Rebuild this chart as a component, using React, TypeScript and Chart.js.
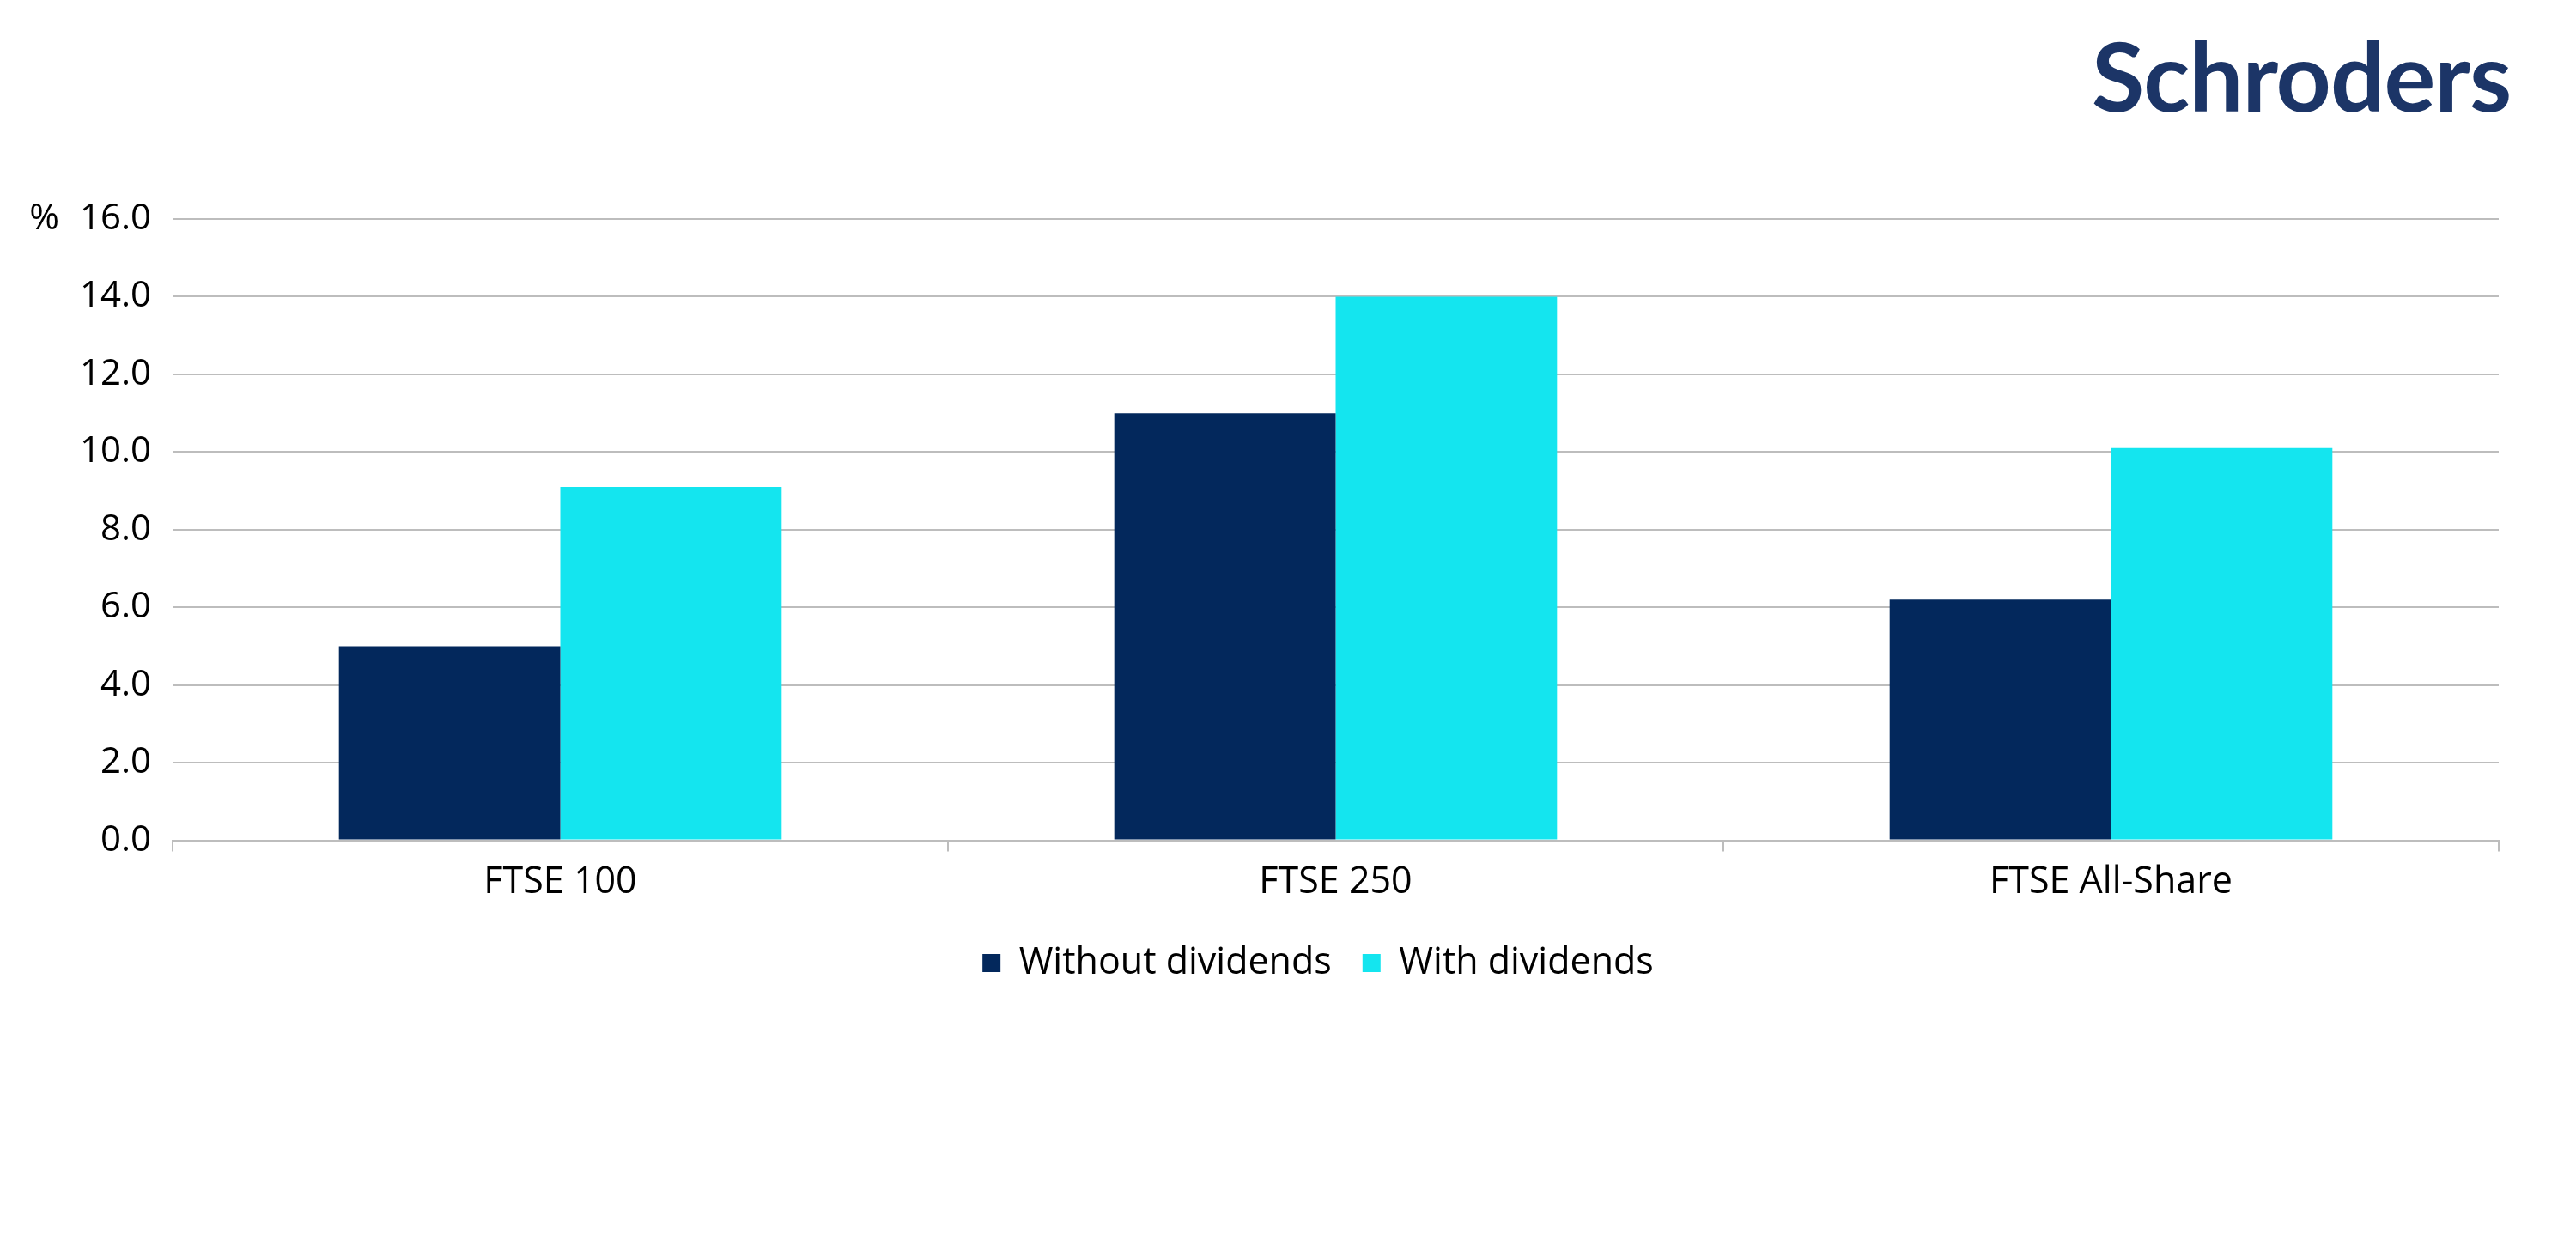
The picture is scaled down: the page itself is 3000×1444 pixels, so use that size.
import React, { useEffect, useRef } from "react";
import { Chart, registerables } from "chart.js";

Chart.register(...registerables);

// data
const categories = ["FTSE 100", "FTSE 250", "FTSE All-Share"];
const seriesNames = ["Without dividends", "With dividends"];
const withoutDividends = [5.0, 11.0, 6.2];
const withDividends = [9.1, 14.0, 10.1];
const yTicks = [0, 2, 4, 6, 8, 10, 12, 14, 16];
const yUnit = "%";

const NAVY = "#03285c";
const CYAN = "#14e5ef";
const GRID = "#bdbdbd";
const FONT = "'Open Sans', sans-serif";
const Y_FONT_SIZE = 42;
const X_FONT_SIZE = 43;
const Y_TICK_PAD = 25;

// draws the "%" unit to the left of the top y tick label
const unitLabel = {
  id: "unitLabel",
  afterDraw(chart: Chart) {
    const scale = chart.scales.y;
    const ctx = chart.ctx;
    const top = yTicks[yTicks.length - 1];
    ctx.save();
    ctx.font = `${Y_FONT_SIZE}px ${FONT}`;
    ctx.fillStyle = "#000000";
    ctx.textAlign = "right";
    ctx.textBaseline = "middle";
    const labelWidth = ctx.measureText(top.toFixed(1)).width;
    ctx.fillText(yUnit, scale.right - Y_TICK_PAD - labelWidth - 24, scale.getPixelForValue(top));
    ctx.restore();
  },
};

const App = () => {
  const chartRef = useRef<HTMLCanvasElement>(null);
  const chartInstanceRef = useRef<Chart | null>(null);

  useEffect(() => {
    if (!chartRef.current) return;
    const context = chartRef.current.getContext("2d");
    if (!context) return;

    if (chartInstanceRef.current) {
      chartInstanceRef.current.destroy();
    }

    chartInstanceRef.current = new Chart(context, {
      type: "bar",
      data: {
        labels: categories,
        datasets: [
          {
            label: seriesNames[0],
            data: withoutDividends,
            backgroundColor: NAVY,
            borderWidth: 0,
            categoryPercentage: 0.571,
            barPercentage: 1.0,
          },
          {
            label: seriesNames[1],
            data: withDividends,
            backgroundColor: CYAN,
            borderWidth: 0,
            categoryPercentage: 0.571,
            barPercentage: 1.0,
          },
        ],
      },
      options: {
        animation: false,
        responsive: true,
        maintainAspectRatio: false,
        layout: {
          padding: { left: 94, right: 24, top: 255, bottom: 291 },
        },
        plugins: {
          title: { display: false },
          tooltip: { enabled: false },
          legend: {
            position: "bottom",
            labels: {
              boxWidth: 21,
              boxHeight: 21,
              padding: 36,
              color: "#000000",
              font: { family: FONT, size: X_FONT_SIZE },
            },
          },
        },
        scales: {
          x: {
            grid: {
              display: true,
              offset: true,
              drawOnChartArea: false,
              drawTicks: true,
              tickLength: 13,
              color: GRID,
              lineWidth: 2,
            },
            border: { display: true, color: GRID, width: 2 },
            ticks: {
              color: "#000000",
              padding: 19,
              font: { family: FONT, size: X_FONT_SIZE, lineHeight: 0.8 },
            },
          },
          y: {
            min: yTicks[0],
            max: yTicks[yTicks.length - 1],
            afterFit: (scale: any) => {
              scale.width = 107;
            },
            grid: {
              color: GRID,
              lineWidth: 2,
              drawTicks: false,
            },
            border: { display: false },
            ticks: {
              stepSize: yTicks[1] - yTicks[0],
              padding: Y_TICK_PAD,
              color: "#000000",
              font: { family: FONT, size: Y_FONT_SIZE },
              callback: (value: any) => Number(value).toFixed(1),
            },
          },
          // empty right-hand spacer so the legend sits where it does in the reference
          spacer: {
            type: "linear",
            position: "right",
            display: true,
            afterFit: (scale: any) => {
              scale.width = 66;
            },
            grid: { display: false },
            border: { display: false },
            ticks: { display: false },
          },
        },
      },
      plugins: [unitLabel],
    });

    return () => {
      if (chartInstanceRef.current) {
        chartInstanceRef.current.destroy();
        chartInstanceRef.current = null;
      }
    };
  }, []);

  return (
    <div
      style={{
        position: "absolute",
        left: 0,
        top: 0,
        width: 3000,
        height: 1444,
        background: "#ffffff",
      }}
    >
      <div
        style={{
          position: "absolute",
          left: 2436,
          top: 31,
          fontFamily: "Lato, sans-serif",
          fontWeight: 700,
          fontSize: 112,
          lineHeight: 1,
          color: "#1c3567",
          letterSpacing: -1,
        }}
      >
        Schroders
      </div>
      <div style={{ position: "absolute", left: 0, top: 0, width: 3000, height: 1444 }}>
        <canvas ref={chartRef}></canvas>
      </div>
    </div>
  );
};

export default App;
